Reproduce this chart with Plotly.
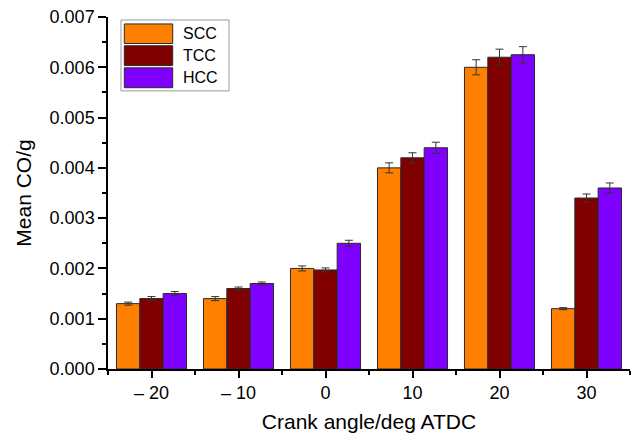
import plotly.graph_objects as go

# Crank angle categories and mean CO values per combustion chamber
angles = ["\u2013 20", "\u2013 10", "0", "10", "20", "30"]
scc = [0.0013, 0.0014, 0.0020, 0.0040, 0.0060, 0.0012]
tcc = [0.0014, 0.0016, 0.00197, 0.0042, 0.0062, 0.0034]
hcc = [0.0015, 0.0017, 0.0025, 0.0044, 0.00625, 0.0036]
scc_err = [0.00003, 0.00004, 0.00005, 0.00010, 0.00015, 0.00002]
tcc_err = [0.00004, 0.00003, 0.00004, 0.00010, 0.00016, 0.00008]
hcc_err = [0.00004, 0.00003, 0.00006, 0.00011, 0.00016, 0.00010]

series = [
    ("SCC", scc, scc_err, "#FF8000"),
    ("TCC", tcc, tcc_err, "#800000"),
    ("HCC", hcc, hcc_err, "#8000FF"),
]

xpos = list(range(len(angles)))
FONT = "Liberation Sans, Arial, sans-serif"

fig = go.Figure()
for name, vals, errs, color in series:
    fig.add_trace(go.Bar(
        x=xpos, y=vals, name=name,
        marker=dict(color=color, line=dict(color="#2a2a2a", width=1)),
        error_y=dict(type="data", array=errs, visible=True,
                     color="#333333", thickness=1, width=4),
        showlegend=False,
    ))

fig.update_layout(
    width=637, height=437,
    margin=dict(l=108, r=7, t=17, b=65),
    paper_bgcolor="white", plot_bgcolor="white",
    barmode="group", bargap=0.195, bargroupgap=0,
    font=dict(family=FONT, size=18, color="black"),
)

fig.update_xaxes(
    range=[-0.5, len(angles) - 0.5],
    tickmode="array", tickvals=xpos, ticktext=angles,
    ticks="outside", ticklen=7, tickwidth=1.5, tickcolor="black",
    showline=True, linecolor="black", linewidth=1.5,
    showgrid=False, zeroline=False,
    minor=dict(tickmode="array",
               tickvals=[i - 0.5 for i in range(len(angles) + 1)],
               ticks="outside", ticklen=4, tickwidth=1.5, tickcolor="black"),
    title=dict(text="Crank angle/deg ATDC", font=dict(size=21), standoff=12),
    tickfont=dict(size=18),
)

fig.update_yaxes(
    range=[0, 0.007], dtick=0.001, tickformat=".3f",
    ticks="outside", ticklen=8, tickwidth=1.5, tickcolor="black",
    showline=True, linecolor="black", linewidth=1.5,
    showgrid=False, zeroline=False,
    minor=dict(dtick=0.0005, ticks="outside", ticklen=4,
               tickwidth=1.5, tickcolor="black"),
    title=dict(text="Mean CO/g", font=dict(size=21), standoff=12),
    tickfont=dict(size=18),
)

# Legend box drawn in pixel-aligned paper coordinates
plot_w = 637 - 108 - 7
plot_h = 437 - 17 - 65


def px(x):
    return (x - 108) / plot_w


def py(y):
    return 1 - (y - 17) / plot_h


fig.add_shape(type="rect", xref="paper", yref="paper",
              x0=px(121), x1=px(229), y0=py(20), y1=py(91.5),
              line=dict(color="#9a9a9a", width=1), fillcolor="white")
rows = [(24, 43.7), (46, 66), (68.3, 88.3)]
for (name, _, _, color), (top, bot) in zip(series, rows):
    fig.add_shape(type="rect", xref="paper", yref="paper",
                  x0=px(124.3), x1=px(172.7), y0=py(top), y1=py(bot),
                  line=dict(color="#2a2a2a", width=1), fillcolor=color)
    fig.add_annotation(xref="paper", yref="paper",
                       x=px(181), y=py((top + bot) / 2),
                       text=name, showarrow=False,
                       xanchor="left", yanchor="middle",
                       font=dict(size=16, family=FONT, color="black"))

fig.write_html("out.html")
